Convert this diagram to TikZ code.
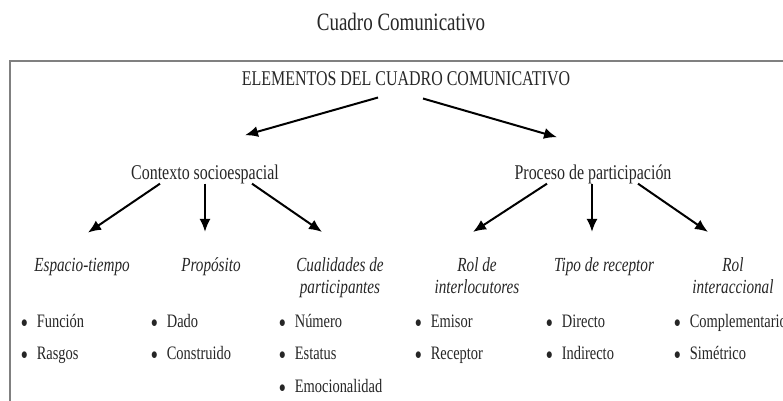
\documentclass[tikz,border=0pt]{standalone}
\usepackage{fontspec}
\setmainfont{Liberation Serif}
\usetikzlibrary{arrows.meta}

\tikzstyle{txt}   = [inner sep=0pt, xscale=0.76, transform shape, text=black!85]
\tikzstyle{title} = [txt, font=\fontsize{25}{28}\selectfont]
\tikzstyle{head}  = [txt, font=\fontsize{21}{24}\selectfont]
\tikzstyle{cat}   = [txt, font=\fontsize{20}{22}\selectfont\itshape, align=center]
\tikzstyle{bul}   = [txt, font=\fontsize{19}{22}\selectfont, anchor=base west]
\tikzstyle{arr}   = [-{Latex[length=13pt,width=11pt]}, line width=2pt]
\tikzstyle{frame} = [draw=gray, line width=1.8pt]

\newcommand{\itm}[1]{$\bullet$\hspace{12pt}#1}

\begin{document}
\begin{tikzpicture}[x=1pt,y=-1pt]
  \useasboundingbox (0,0) rectangle (783,400);
  \draw[frame] (800,61) -| (10,410);

  \node[title,anchor=base] at (401,30) (tit) {Cuadro Comunicativo};
  \node[head,anchor=base] at (406,85) (elem) {ELEMENTOS DEL CUADRO COMUNICATIVO};
  \node[head,anchor=base] at (205,179) (ctx)  {Contexto socioespacial};
  \node[head,anchor=base] at (593,179) (proc) {Proceso de participación};

  % two-line nodes sit on the baseline of their last line
  \node[cat,anchor=base] at (82,271)  (esp)  {Espacio-tiempo};
  \node[cat,anchor=base] at (211,271) (prop) {Propósito};
  \node[cat,anchor=base] at (340,293) (cual) {Cualidades de \\ participantes};
  \node[cat,anchor=base] at (477,293) (rol)  {Rol de \\ interlocutores};
  \node[cat,anchor=base] at (604,271) (tipo) {Tipo de receptor};
  \node[cat,anchor=base] at (733,293) (rint) {Rol \\ interaccional};

  \node[bul] at (21,327)  (fun)  {\itm{Función}};
  \node[bul] at (21,359)  (ras)  {\itm{Rasgos}};
  \node[bul] at (151,327) (dad)  {\itm{Dado}};
  \node[bul] at (151,359) (con)  {\itm{Construido}};
  \node[bul] at (279,327) (num)  {\itm{Número}};
  \node[bul] at (279,359) (est)  {\itm{Estatus}};
  \node[bul] at (279,392) (emo)  {\itm{Emocionalidad}};
  \node[bul] at (415,327) (emi)  {\itm{Emisor}};
  \node[bul] at (415,359) (rec)  {\itm{Receptor}};
  \node[bul] at (546,327) (dir)  {\itm{Directo}};
  \node[bul] at (546,359) (ind)  {\itm{Indirecto}};
  \node[bul] at (674,327) (com)  {\itm{Complementario}};
  \node[bul] at (674,359) (sim)  {\itm{Simétrico}};

  \draw[arr] ([xshift=-28pt,yshift=-12pt]elem.south) -- ([xshift=40pt,yshift=29pt]ctx.north);
  \draw[arr] ([xshift=17pt,yshift=-13pt]elem.south) -- ([xshift=-36pt,yshift=27pt]proc.north);

  \draw[arr] ([xshift=-45pt]ctx.south) -- ([xshift=6pt,yshift=25pt]esp.north);
  \draw[arr] ([xshift=0pt]ctx.south) -- ([xshift=-6pt,yshift=25pt]prop.north);
  \draw[arr] ([xshift=47pt]ctx.south) -- ([xshift=-18pt,yshift=25pt]cual.north);
  \draw[arr] ([xshift=-46pt]proc.south) -- ([xshift=-4pt,yshift=25pt]rol.north);
  \draw[arr] ([xshift=-1pt]proc.south) -- ([xshift=-12pt,yshift=25pt]tipo.north);
  \draw[arr] ([xshift=45pt]proc.south) -- ([xshift=-25pt,yshift=25pt]rint.north);
\end{tikzpicture}
\end{document}
